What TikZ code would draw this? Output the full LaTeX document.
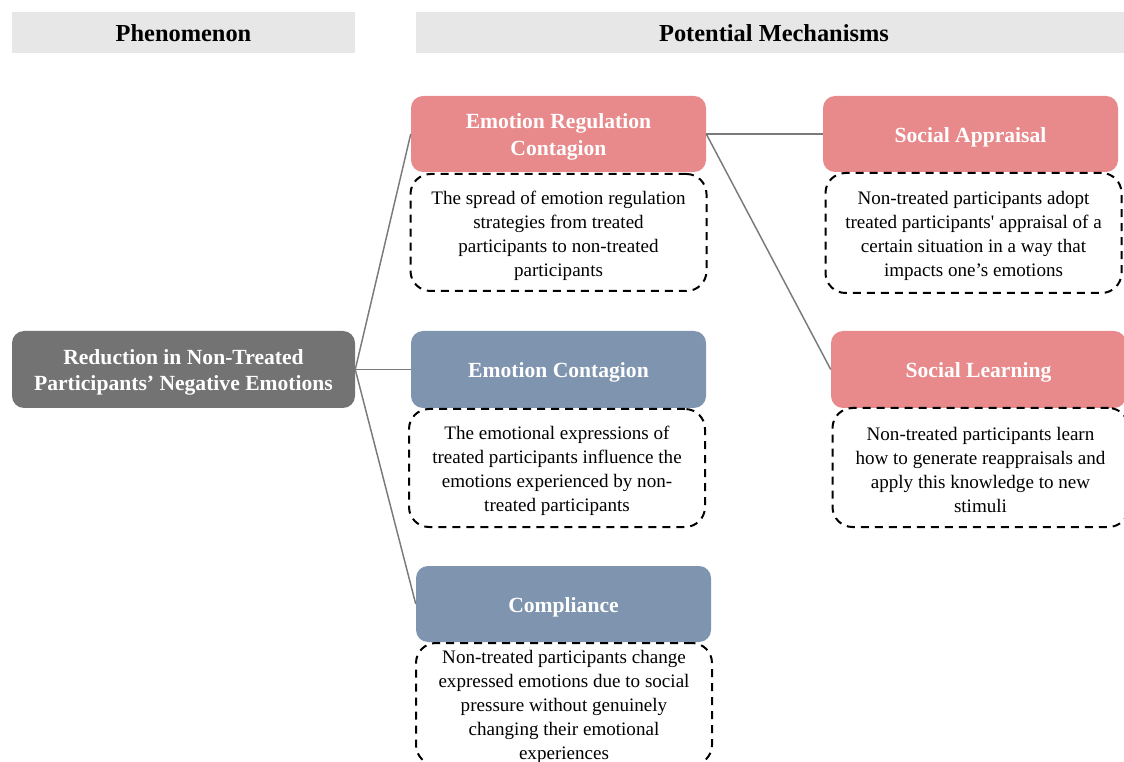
\documentclass[tikz,border=0pt]{standalone}
\usepackage{fontspec}
\setmainfont{Liberation Serif}
\definecolor{hdrgray}{HTML}{E7E7E7}
\definecolor{rootgray}{HTML}{737373}
\definecolor{regpink}{HTML}{E8898B}
\definecolor{contblue}{HTML}{7F94AE}
\definecolor{linegray}{HTML}{7A7A7A}
\newcommand{\lowerstrut}{\rule{0pt}{\dimexpr0.69em+4.5pt\relax}}
\begin{document}
\begin{tikzpicture}[x=0.75pt,y=-0.75pt,
  hdr/.style={fill=hdrgray, minimum height=30.75pt, inner sep=0pt,
    font=\fontsize{18.3}{20}\selectfont\bfseries},
  titlebox/.style={rounded corners=9pt, minimum width=221.25pt, minimum height=57pt,
    inner sep=0pt, text width=215pt, align=flush center, text=white,
    execute at begin node=\lowerstrut, font=\fontsize{16.2}{20}\selectfont\bfseries},
  pinkbox/.style={titlebox, fill=regpink},
  bluebox/.style={titlebox, fill=contblue},
  descbox/.style={draw, dashed, dash pattern=on 6pt off 4.5pt, line width=1.5pt,
    rounded corners=15pt, minimum width=222pt, inner sep=0pt, text width=218pt,
    align=flush center, execute at begin node=\lowerstrut, font=\fontsize{14.3}{18}\selectfont},
  conn/.style={draw=linegray, line width=1.1pt}]
  \useasboundingbox (0,0) rectangle (1124,762);
  \clip (0,0) rectangle (1124,762);
  % headers
  \node[hdr, minimum width=257.25pt] (phen) at (183.5,33) {Phenomenon};
  \node[hdr, minimum width=537pt] (mech) at (774,33) {Potential Mechanisms};
  % phenomenon
  \node[titlebox, fill=rootgray, minimum width=257.25pt, text width=250pt, minimum height=57.75pt] (root) at (183.5,369.5)
    {Reduction in Non-Treated\\Participants’ Negative Emotions};
  % mechanisms
  \node[pinkbox] (erc) at (558.5,134) {Emotion Regulation\\Contagion};
  \node[descbox, minimum height=87.75pt] (ercdesc) at (558.5,232.5)
    {The spread of emotion regulation\\strategies from treated\\participants to non-treated\\participants};
  \node[bluebox, minimum height=57.75pt] (ec) at (558.5,369.5) {Emotion Contagion};
  \node[descbox, minimum height=88.5pt] (ecdesc) at (557,468)
    {The emotional expressions of\\treated participants influence the\\emotions experienced by non-\\treated participants};
  \node[bluebox] (comp) at (563.5,604) {Compliance};
  \node[descbox, minimum height=91.5pt] (compdesc) at (564,704)
    {Non-treated participants change\\expressed emotions due to social\\pressure without genuinely\\changing their emotional\\experiences};
  \node[pinkbox] (sa) at (970.5,134) {Social Appraisal};
  \node[descbox, minimum height=90pt] (sadesc) at (973.5,233)
    {Non-treated participants adopt\\treated participants\textquotesingle{} appraisal of a\\certain situation in a way that\\impacts one’s emotions};
  \node[pinkbox, minimum height=57.75pt] (sl) at (978.5,369.5) {Social Learning};
  \node[descbox, minimum height=89.25pt] (sldesc) at (980.5,467.5)
    {Non-treated participants learn\\how to generate reappraisals and\\apply this knowledge to new\\stimuli};
  \draw[conn] (root.east) -- (erc.west);
  \draw[conn] (root.east) -- (ec.west);
  \draw[conn] (root.east) -- (comp.west);
  \draw[conn] (erc.east) -- (sa.west);
  \draw[conn] (erc.east) -- (sl.west);
\end{tikzpicture}
\end{document}
